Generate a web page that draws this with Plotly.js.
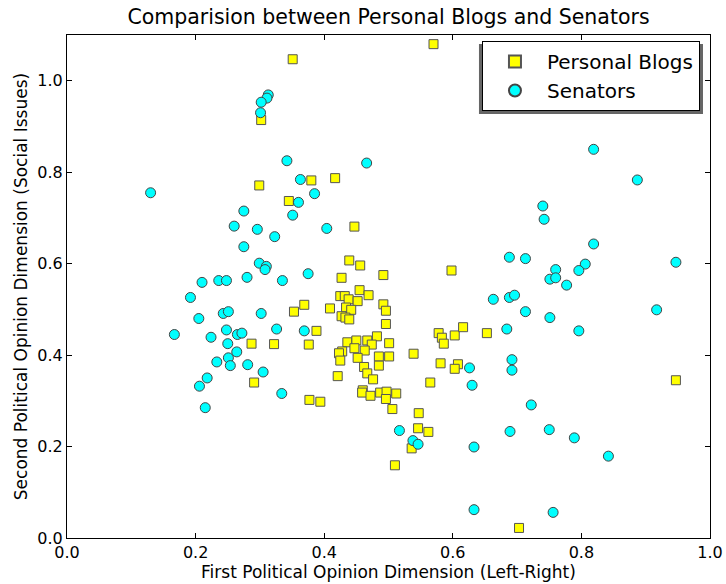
<!DOCTYPE html>
<html><head><meta charset="utf-8">
<script src="https://cdn.plot.ly/plotly-3.0.1.min.js"></script>
<style>body{margin:0;background:#fff}#chart{width:726px;height:584px}</style>
</head><body><div id="chart"></div>
<script>
const blogsX = [0.302,0.299,0.570,0.351,0.380,0.417,0.345,0.447,0.439,0.456,0.598,0.427,0.492,0.455,0.469,0.425,0.432,0.438,0.452,0.492,0.496,0.369,0.353,0.409,0.434,0.442,0.427,0.433,0.439,0.496,0.388,0.578,0.583,0.586,0.603,0.616,0.653,0.322,0.287,0.376,0.436,0.450,0.467,0.482,0.474,0.501,0.447,0.463,0.428,0.423,0.485,0.501,0.539,0.452,0.425,0.485,0.581,0.608,0.603,0.462,0.467,0.421,0.476,0.565,0.291,0.377,0.394,0.460,0.459,0.472,0.487,0.497,0.496,0.512,0.506,0.547,0.546,0.562,0.536,0.510,0.947,0.703];
const blogsY = [0.914,0.771,1.080,1.047,0.782,0.787,0.737,0.681,0.607,0.596,0.585,0.569,0.575,0.542,0.531,0.529,0.529,0.522,0.518,0.511,0.497,0.510,0.495,0.502,0.504,0.499,0.485,0.482,0.478,0.468,0.453,0.448,0.438,0.425,0.443,0.461,0.448,0.424,0.425,0.423,0.428,0.432,0.432,0.441,0.423,0.426,0.415,0.410,0.408,0.404,0.397,0.397,0.403,0.394,0.388,0.377,0.382,0.380,0.370,0.374,0.360,0.354,0.347,0.340,0.340,0.302,0.298,0.323,0.318,0.311,0.318,0.320,0.304,0.316,0.282,0.273,0.240,0.232,0.196,0.159,0.345,0.022];
const senX = [0.313,0.311,0.302,0.301,0.130,0.342,0.466,0.363,0.385,0.360,0.819,0.887,0.740,0.275,0.260,0.296,0.323,0.275,0.299,0.310,0.308,0.335,0.210,0.236,0.248,0.280,0.192,0.205,0.243,0.251,0.302,0.326,0.167,0.224,0.248,0.265,0.272,0.250,0.264,0.251,0.233,0.254,0.281,0.305,0.218,0.206,0.215,0.334,0.351,0.404,0.375,0.369,0.626,0.630,0.517,0.538,0.546,0.633,0.633,0.742,0.819,0.688,0.713,0.947,0.806,0.796,0.760,0.751,0.760,0.777,0.663,0.688,0.696,0.713,0.917,0.751,0.684,0.796,0.692,0.692,0.722,0.689,0.750,0.789,0.842,0.756];
const senY = [0.969,0.962,0.953,0.930,0.755,0.825,0.820,0.784,0.753,0.734,0.850,0.783,0.726,0.715,0.682,0.675,0.659,0.637,0.601,0.594,0.587,0.563,0.559,0.563,0.563,0.570,0.526,0.480,0.491,0.495,0.491,0.457,0.445,0.439,0.455,0.445,0.448,0.425,0.407,0.394,0.385,0.377,0.379,0.363,0.350,0.332,0.285,0.316,0.706,0.677,0.578,0.453,0.372,0.334,0.235,0.213,0.205,0.199,0.062,0.697,0.643,0.614,0.611,0.603,0.599,0.585,0.587,0.566,0.569,0.553,0.522,0.526,0.531,0.495,0.499,0.482,0.457,0.453,0.390,0.367,0.291,0.233,0.237,0.219,0.179,0.056];
const xTicks = [0.0,0.2,0.4,0.6,0.8,1.0];
const yTicks = [0.0,0.2,0.4,0.6,0.8,1.0];

const F = "DejaVu Sans, sans-serif";
const traces = [
  {x: blogsX, y: blogsY, type:'scatter', mode:'markers', name:'Personal Blogs',
   marker:{symbol:'square', size:9, color:'#ffff00', line:{color:'#555555', width:1}}},
  {x: senX, y: senY, type:'scatter', mode:'markers', name:'Senators',
   marker:{symbol:'circle', size:10, color:'#00ffff', line:{color:'#444444', width:1}}}
];
const axisCommon = {showline:true, linecolor:'#000', linewidth:1, mirror:'ticks', ticks:'inside',
  ticklen:5, tickcolor:'#000', showgrid:false, zeroline:false, tickformat:'.1f',
  tickfont:{family:F, size:16, color:'#000'}};
const layout = {
  width:726, height:584, paper_bgcolor:'#fff', plot_bgcolor:'#fff',
  margin:{l:67, r:16, t:35, b:46},
  font:{family:F, color:'#000'},
  title:{text:'Comparision between Personal Blogs and Senators', font:{family:F, size:20.5, color:'#000'}, xref:'paper', x:0.5, xanchor:'center', y:0.971, yanchor:'middle'},
  xaxis: Object.assign({}, axisCommon, {range:[0,1], tickvals:xTicks,
    title:{text:'First Political Opinion Dimension (Left-Right)', font:{family:F, size:17}, standoff:2}}),
  yaxis: Object.assign({}, axisCommon, {range:[0,1.1], tickvals:yTicks,
    title:{text:'Second Political Opinion Dimension (Social Issues)', font:{family:F, size:17}, standoff:5}}),
  showlegend:true,
  legend:{x:0.9844, xanchor:'right', y:0.988, yanchor:'top', bgcolor:'#fff', bordercolor:'#000', borderwidth:1,
    font:{family:F, size:20, color:'#000'}, itemsizing:'constant', itemwidth:54},
  shapes:[{type:'rect', xref:'paper', yref:'paper', x0:0.6407, x1:0.9891, y0:0.843, y1:0.982,
    fillcolor:'#666', line:{width:0}, layer:'above'}]
};
Plotly.newPlot('chart', traces, layout, {displayModeBar:false, staticPlot:true});
</script></body></html>
